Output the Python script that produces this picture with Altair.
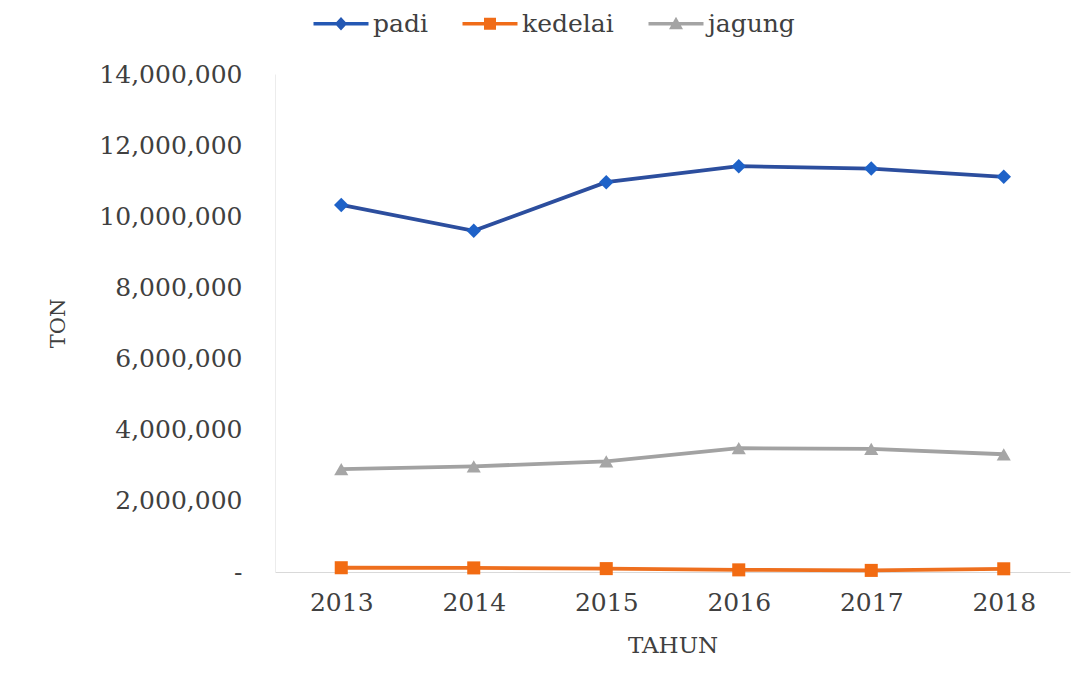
import altair as alt
import pandas as pd

years = ["2013", "2014", "2015", "2016", "2017", "2018"]
padi = [10320000, 9590000, 10960000, 11410000, 11340000, 11110000]
kedelai = [120000, 115000, 95000, 60000, 45000, 90000]
jagung = [2890000, 2970000, 3110000, 3480000, 3460000, 3310000]

series = ["padi", "kedelai", "jagung"]
line_colors = ["#2C4E9E", "#EE6F1E", "#A2A2A2"]
marker_colors = ["#1E62C8", "#F26B12", "#A6A6A6"]
legend_colors = ["#2458B4", "#F06C18", "#A4A4A4"]
shapes = ["diamond", "square", "triangle-up"]
marker_sizes = [210, 170, 200]
y_ticks = [0, 2000000, 4000000, 6000000, 8000000, 10000000, 12000000, 14000000]

# legend glyphs: line segment plus marker (unit = 10px at symbolSize 400)
legend_paths = [
    "M-2.75,-0.17H2.75V0.17H-2.75Z M0,-0.68L0.62,0L0,0.68L-0.62,0Z",
    "M-2.75,-0.17H2.75V0.17H-2.75Z M-0.6,-0.6H0.6V0.6H-0.6Z",
    "M-2.75,-0.17H2.75V0.17H-2.75Z M0,-0.7L0.7,0.55H-0.7Z",
]

rows = []
for name, vals in zip(series, [padi, kedelai, jagung]):
    for yr, v in zip(years, vals):
        rows.append({"Tahun": yr, "Ton": v, "Seri": name})
df = pd.DataFrame(rows)

FONT = "DejaVu Serif"
TXT = "#404040"

x_enc = alt.X(
    "Tahun:O",
    sort=years,
    scale=alt.Scale(type="point", padding=0.5),
    axis=alt.Axis(
        title="TAHUN", labelAngle=0, ticks=False, grid=False,
        domain=True, domainColor="#d9d9d9", domainWidth=1,
        labelFont=FONT, labelFontSize=25, labelColor=TXT, labelPadding=18,
        titleFont=FONT, titleFontSize=23, titleFontWeight="normal",
        titleColor=TXT, titlePadding=19,
    ),
)
y_enc = alt.Y(
    "Ton:Q",
    scale=alt.Scale(domain=[0, 14000000], nice=False, zero=True),
    axis=alt.Axis(
        title="TON", values=y_ticks, grid=False, ticks=False,
        domain=True, domainColor="#ececec",
        labelExpr="datum.value == 0 ? '-' : format(datum.value, ',')",
        labelFont=FONT, labelFontSize=25, labelColor=TXT, labelPadding=33,
        titleFont=FONT, titleFontSize=21, titleFontWeight="normal",
        titleColor=TXT, titlePadding=30,
    ),
)

legend_cfg = dict(
    title=None, orient="none", legendX=53.5, legendY=-63,
    direction="horizontal", symbolSize=400, symbolStrokeWidth=0,
    labelFont=FONT, labelFontSize=25, labelColor=TXT,
    labelOffset=19.5, columnPadding=34,
)

legend_layer = (
    alt.Chart(df)
    .transform_filter("false")
    .mark_point(filled=True, opacity=1, size=400)
    .encode(
        x=x_enc, y=y_enc,
        color=alt.Color(
            "Seri:N", scale=alt.Scale(domain=series, range=legend_colors),
            legend=alt.Legend(**legend_cfg),
        ),
        shape=alt.Shape(
            "Seri:N", scale=alt.Scale(domain=series, range=legend_paths),
            legend=alt.Legend(**legend_cfg),
        ),
    )
)

layers = [legend_layer]
for name, col in zip(series, line_colors):
    layers.append(
        alt.Chart(df)
        .transform_filter(alt.datum.Seri == name)
        .mark_line(strokeWidth=3.8, color=col)
        .encode(x=x_enc, y=y_enc)
    )
for name, shp, col, sz in zip(series, shapes, marker_colors, marker_sizes):
    layers.append(
        alt.Chart(df)
        .transform_filter(alt.datum.Seri == name)
        .mark_point(shape=shp, filled=True, opacity=1, size=sz, color=col)
        .encode(x=x_enc, y=y_enc)
    )

chart = (
    alt.layer(*layers)
    .properties(
        width=795, height=498,
        autosize=alt.AutoSizeParams(type="none"),
        padding={"left": 267, "top": 66, "right": 6, "bottom": 100},
        background="white",
    )
    .configure_view(stroke=None)
)

chart.save("out.html", embed_options={"renderer": "svg", "actions": False})
